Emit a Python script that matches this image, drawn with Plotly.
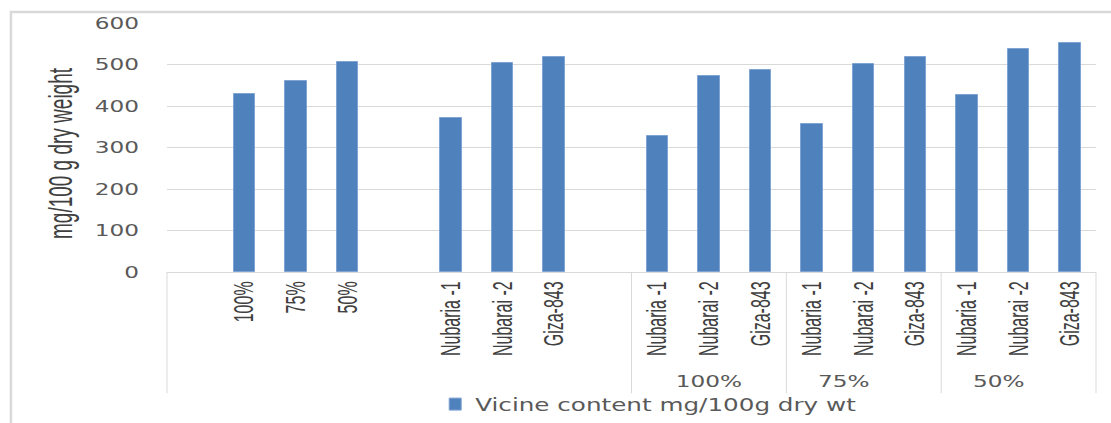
import plotly.graph_objects as go

# ---------------- data ----------------
level_labels = ["100%", "75%", "50%"]
level_values = [430, 460, 506]
cultivar_labels = ["Nubaria -1", "Nubarai -2", "Giza-843"]
cultivar_values = [371, 503, 518]
combo_levels = ["100%", "75%", "50%"]
combo_100 = [328, 472, 486]
combo_75 = [357, 501, 517]
combo_50 = [426, 537, 553]
series_name = "Vicine content mg/100g dry wt"
y_title = "mg/100 g dry weight"
y_ticks = [0, 100, 200, 300, 400, 500, 600]

# ---------------- build slots ----------------
xs, ys, labels = [], [], []
slot = 0
slot += 1  # empty slot
for lab, v in zip(level_labels, level_values):
    xs.append(slot); ys.append(v); labels.append(lab); slot += 1
slot += 1  # empty slot
for lab, v in zip(cultivar_labels, cultivar_values):
    xs.append(slot); ys.append(v); labels.append(lab); slot += 1
slot += 1  # empty slot
outer = [(-0.5, slot - 0.5, "")]
for lvl, vals in zip(combo_levels, [combo_100, combo_75, combo_50]):
    start = slot
    for lab, v in zip(cultivar_labels, vals):
        xs.append(slot); ys.append(v); labels.append(lab); slot += 1
    outer.append((start - 0.5, slot - 0.5, lvl))
n_slots = slot

BLUE = "#4F81BD"
GRID = "#D9D9D9"
NARROW = "Liberation Sans, Arial, sans-serif"
WIDE = "DejaVu Sans, Verdana, sans-serif"

fig = go.Figure()
fig.add_trace(go.Bar(
    x=xs, y=ys, name=series_name, width=0.415,
    marker=dict(color=BLUE, line=dict(color="#7FA3D3", width=1)),
    showlegend=True,
))

def px(v):
    return (v + 0.5) / n_slots

shapes = []
bounds = sorted(set([b for o in outer for b in (o[0], o[1])]))
for b in bounds:
    shapes.append(dict(type="line", xref="paper", yref="paper",
                       x0=px(b), x1=px(b), y0=0, y1=-0.487,
                       line=dict(color=GRID, width=1)))
# chart outer border
shapes.append(dict(type="rect", xref="paper", yref="paper",
                   x0=-0.168, x1=1.2, y0=-1.0, y1=1.044,
                   line=dict(color="#D9D9D9", width=2.5), fillcolor="rgba(0,0,0,0)", layer="below"))

annotations = []
for a, b, lab in outer:
    if lab:
        annotations.append(dict(xref="paper", yref="paper", x=(px(a) + px(b)) / 2, y=-0.44,
                                text=lab, showarrow=False, yanchor="middle",
                                font=dict(family=WIDE, size=16, color="#595959")))

fig.update_layout(
    width=1111, height=423,
    margin=dict(l=167, r=15, t=23, b=151, autoexpand=False),
    paper_bgcolor="white", plot_bgcolor="white",
    shapes=shapes, annotations=annotations,
    bargap=0,
    xaxis=dict(range=[-0.5, n_slots - 0.5], tickmode="array", tickvals=xs, ticktext=labels,
               tickangle=-90, ticks="", showgrid=False, zeroline=False, automargin=False,
               showline=True, linecolor=GRID, linewidth=1,
               tickfont=dict(family=NARROW, size=16, color="#404040"),
               ticklabelstandoff=2),
    yaxis=dict(range=[0, 600], tickvals=y_ticks, showgrid=True, gridcolor=GRID, gridwidth=1,
               zeroline=False, showline=False, ticks="", automargin=False,
               tickfont=dict(family=WIDE, size=16, color="#595959"),
               ticklabelstandoff=27,
               title=dict(text=y_title, standoff=35,
                          font=dict(family=NARROW, size=19, color="#404040"))),
    legend=dict(orientation="h", x=0.2887, xanchor="left", y=-0.46, yanchor="top",
                font=dict(family=WIDE, size=17, color="#595959"), entrywidth=450,
                bgcolor="rgba(0,0,0,0)"),
)

post = """
document.documentElement.style.margin = '0';
document.documentElement.style.overflow = 'hidden';
document.body.style.margin = '0';
document.body.style.padding = '0';
document.body.style.overflow = 'hidden';
var gd = document.getElementById('{plot_id}');
var SH = 1.45, SR = 1.7;
var svg = gd.querySelector('svg.main-svg');
function stretch(t, dy){
  var bb = t.getBBox();
  var tl = t.transform.baseVal;
  var M = tl.numberOfItems ? tl.consolidate().matrix : svg.createSVGMatrix();
  var rotated = Math.abs(M.b) > 1e-6;
  var S = rotated ? SR : SH;
  var anchor = t.getAttribute('text-anchor') || 'start';
  var lx = bb.x + bb.width/2;
  if(!rotated){ if(anchor==='end') lx = bb.x + bb.width; else if(anchor==='start') lx = bb.x; }
  var ly = bb.y + bb.height/2;
  var X = M.a*lx + M.c*ly + M.e;
  var Y = M.b*lx + M.d*ly + M.f;
  var N = svg.createSVGMatrix().translate(0, dy || 0).translate(X, Y).scaleNonUniform(S, 1).translate(-X, -Y).multiply(M);
  t.setAttribute('transform', 'matrix(' + [N.a,N.b,N.c,N.d,N.e,N.f].join(' ') + ')');
}
gd.querySelectorAll('.xtick text, .ytick text, .annotation-text, .legendtext').forEach(function(t){ stretch(t, 0); });
gd.querySelectorAll('.g-ytitle text').forEach(function(t){ stretch(t, 6); });
gd.querySelectorAll('.legend, .legend .scrollbox').forEach(function(e){ e.removeAttribute('clip-path'); });
"""

fig.write_html("out.html", post_script=post, config={"responsive": False, "displayModeBar": False})
